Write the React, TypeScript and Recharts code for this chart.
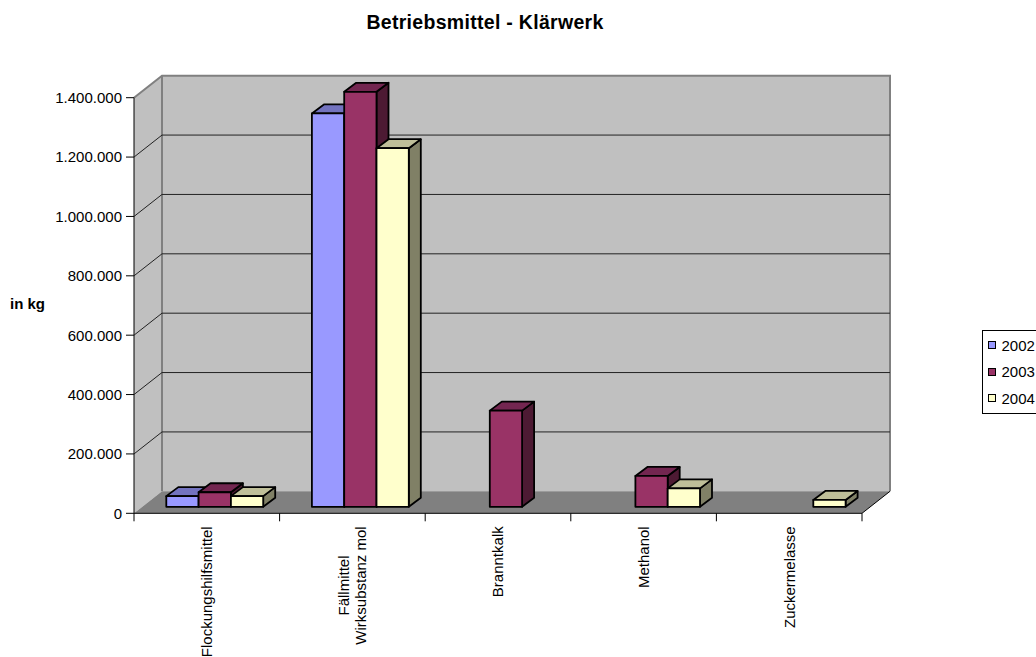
import { BarChart, Bar, XAxis, YAxis, CartesianGrid, Legend } from "recharts";

// Betriebsmittel des Klärwerks in kg, je Jahr
const CATEGORIES = [
  "Flockungshilfsmittel",
  "Fällmittel\nWirksubstanz mol",
  "Branntkalk",
  "Methanol",
  "Zuckermelasse",
];
const Y2002 = [36000, 1325000, null, null, null];
const Y2003 = [49000, 1398000, 324000, 104000, null];
const Y2004 = [36000, 1208000, null, 62000, 23000];
const Y_TICKS = [0, 200000, 400000, 600000, 800000, 1000000, 1200000, 1400000];

const SERIES = [
  { key: "y2002", name: "2002", front: "#9999ff", top: "#7373bf", side: "#5c5c99" },
  { key: "y2003", name: "2003", front: "#993366", top: "#732650", side: "#4d1a33" },
  { key: "y2004", name: "2004", front: "#ffffcc", top: "#bfbf99", side: "#808066" },
];

const data = CATEGORIES.map((name, i) => ({
  name,
  y2002: Y2002[i],
  y2003: Y2003[i],
  y2004: Y2004[i],
}));

const W = 1036;
const H = 657;
const FONT = "'Liberation Sans', Arial, sans-serif";

// plane the bars stand in
const PLOT_LEFT = 142.3;
const PLOT_WIDTH = 728;
const PLOT_TOP = 91.2;
const PLOT_BOTTOM = 506.8;
const Y_AXIS_W = 60;
const X_AXIS_H = 30;

// offsets from the bar plane to the front edge and to the back wall
const FRONT = { dx: -8.3, dy: 6.5 };
const BACK = { dx: 19.7, dy: -15.5 };
const BAR_DEPTH = { dx: 12, dy: -9 };

const FX0 = PLOT_LEFT + FRONT.dx;
const FX1 = FX0 + PLOT_WIDTH;
const FY0 = PLOT_BOTTOM + FRONT.dy;
const FYT = PLOT_TOP + FRONT.dy;
const BX0 = PLOT_LEFT + BACK.dx;
const BX1 = BX0 + PLOT_WIDTH;
const BY0 = PLOT_BOTTOM + BACK.dy;
const BYT = PLOT_TOP + BACK.dy;

const fmt = (v: number) => String(v).replace(/\B(?=(\d{3})+(?!\d))/g, ".");

let canvasCtx: CanvasRenderingContext2D | null = null;
function textWidth(s: string, font: string) {
  if (!canvasCtx) canvasCtx = document.createElement("canvas").getContext("2d");
  if (!canvasCtx) return s.length * 7.5;
  canvasCtx.font = font;
  return canvasCtx.measureText(s).width;
}

function Box3D(props: any) {
  const { x, y, width, height, colors } = props;
  if (!height || height <= 0) return null;
  const { dx, dy } = BAR_DEPTH;
  const r = x + width;
  const b = y + height;
  const stroke = { stroke: "#000", strokeWidth: 1.8, strokeLinejoin: "round" as const };
  return (
    <g>
      <polygon
        points={`${r},${y} ${r + dx},${y + dy} ${r + dx},${b + dy} ${r},${b}`}
        fill={colors.side}
        {...stroke}
      />
      <polygon
        points={`${x},${y} ${r},${y} ${r + dx},${y + dy} ${x + dx},${y + dy}`}
        fill={colors.top}
        {...stroke}
      />
      <rect x={x} y={y} width={width} height={height} fill={colors.front} {...stroke} />
    </g>
  );
}

function YTick(props: any) {
  const { y, payload } = props;
  const fy = y + FRONT.dy;
  return (
    <g>
      <line x1={FX0 - 8} y1={fy} x2={FX0} y2={fy} stroke="#000" strokeWidth={1} />
      <text x={FX0 - 12} y={fy} dy="0.36em" textAnchor="end" fontSize={15} fontFamily={FONT} fill="#000">
        {fmt(payload.value)}
      </text>
    </g>
  );
}

function XTick(props: any) {
  const { x, payload } = props;
  const lines = String(payload.value).split("\n");
  const font = `15px ${FONT}`;
  const maxW = Math.max(...lines.map((l) => textWidth(l, font)));
  const cx = x + FRONT.dx;
  const top = FY0 + 13;
  const step = 17.4;
  return (
    <g transform={`translate(${cx},${top}) rotate(-90)`}>
      {lines.map((l, i) => (
        <text
          key={i}
          x={-maxW / 2}
          y={(i - (lines.length - 1) / 2) * step}
          dy="0.36em"
          textAnchor="middle"
          fontSize={15}
          fontFamily={FONT}
          fill="#000"
        >
          {l}
        </text>
      ))}
    </g>
  );
}

// wall grid: diagonal on the left wall, then across the back wall
function WallGridLine(props: any) {
  const { y1, index } = props;
  if (index === 0 || index === Y_TICKS.length - 1) return <g key={`g${index}`} />;
  const fy = y1 + FRONT.dy;
  const by = y1 + BACK.dy;
  return (
    <g key={`g${index}`}>
      <line x1={FX0} y1={fy} x2={BX0} y2={by} stroke="#222" strokeWidth={1} />
      <line x1={BX0} y1={by} x2={BX1} y2={by} stroke="#222" strokeWidth={1} />
    </g>
  );
}

function LegendBox() {
  return (
    <div
      style={{
        border: "1px solid #000",
        background: "#fff",
        width: 60,
        padding: "0.7px 0 1px 4.5px",
        fontFamily: FONT,
        fontSize: 15,
        color: "#000",
        boxSizing: "border-box",
      }}
    >
      {SERIES.map((s) => (
        <div key={s.key} style={{ height: 26.7, display: "flex", alignItems: "center" }}>
          <span
            style={{
              display: "inline-block",
              width: 8,
              height: 8,
              boxSizing: "border-box",
              border: "1.5px solid #000",
              background: s.front,
              marginRight: 6,
            }}
          />
          <span>{s.name}</span>
        </div>
      ))}
    </div>
  );
}

function Frame() {
  const catW = PLOT_WIDTH / CATEGORIES.length;
  return (
    <svg width={W} height={H} style={{ position: "absolute", left: 0, top: 0 }}>
      <text x={485} y={29} textAnchor="middle" fontSize={19.5} fontWeight="bold" letterSpacing={0.3} fontFamily={FONT}>
        Betriebsmittel - Klärwerk
      </text>
      <text x={10} y={309} fontSize={15} fontWeight="bold" fontFamily={FONT}>
        in kg
      </text>
      {/* walls */}
      <polygon points={`${FX0},${FY0} ${FX0},${FYT} ${BX0},${BYT} ${BX0},${BY0}`} fill="#c0c0c0" />
      <rect x={BX0} y={BYT} width={PLOT_WIDTH} height={BY0 - BYT} fill="#c0c0c0" />
      <polyline
        points={`${FX0},${FYT} ${BX0},${BYT} ${BX1},${BYT} ${BX1},${BY0}`}
        fill="none"
        stroke="#808080"
        strokeWidth={2}
      />
      <line x1={BX0} y1={BYT} x2={BX0} y2={BY0} stroke="#808080" strokeWidth={2} />
      {/* floor */}
      <polygon points={`${FX0},${FY0} ${FX1},${FY0} ${BX1},${BY0} ${BX0},${BY0}`} fill="#808080" />
      <line x1={FX1} y1={FY0} x2={BX1} y2={BY0} stroke="#000" strokeWidth={1} />
      {/* axes */}
      <line x1={FX0} y1={FY0} x2={FX1} y2={FY0} stroke="#000" strokeWidth={1} />
      <line x1={FX0} y1={FYT} x2={FX0} y2={FY0 + 8} stroke="#000" strokeWidth={1} />
      {CATEGORIES.map((_, i) => (
        <line
          key={i}
          x1={FX0 + (i + 1) * catW}
          y1={FY0}
          x2={FX0 + (i + 1) * catW}
          y2={FY0 + 8}
          stroke="#000"
          strokeWidth={1}
        />
      ))}
    </svg>
  );
}

export default function App() {
  return (
    <div style={{ position: "absolute", left: 0, top: 0, width: W, height: H, overflow: "hidden", background: "#fff" }}>
      <Frame />
      <div style={{ position: "absolute", left: 0, top: 0 }}>
        <BarChart
          width={W}
          height={H}
          data={data}
          barSize={32.3}
          barGap={0}
          margin={{
            top: PLOT_TOP,
            left: PLOT_LEFT - Y_AXIS_W,
            right: W - PLOT_LEFT - PLOT_WIDTH,
            bottom: H - PLOT_BOTTOM - X_AXIS_H,
          }}
        >
          <CartesianGrid vertical={false} horizontal={WallGridLine as any} />
          <XAxis
            dataKey="name"
            height={X_AXIS_H}
            interval={0}
            axisLine={false}
            tickLine={false}
            tick={<XTick />}
          />
          <YAxis
            width={Y_AXIS_W}
            domain={[0, 1400000]}
            ticks={Y_TICKS}
            axisLine={false}
            tickLine={false}
            tick={<YTick />}
          />
          <Legend
            layout="vertical"
            align="center"
            verticalAlign="middle"
            content={<LegendBox />}
            wrapperStyle={{ left: 982, top: 330, width: 60 }}
          />
          {SERIES.map((s) => (
            <Bar
              key={s.key}
              dataKey={s.key}
              name={s.name}
              fill={s.front}
              isAnimationActive={false}
              shape={(p: any) => <Box3D {...p} colors={s} />}
            />
          ))}
        </BarChart>
      </div>
    </div>
  );
}
